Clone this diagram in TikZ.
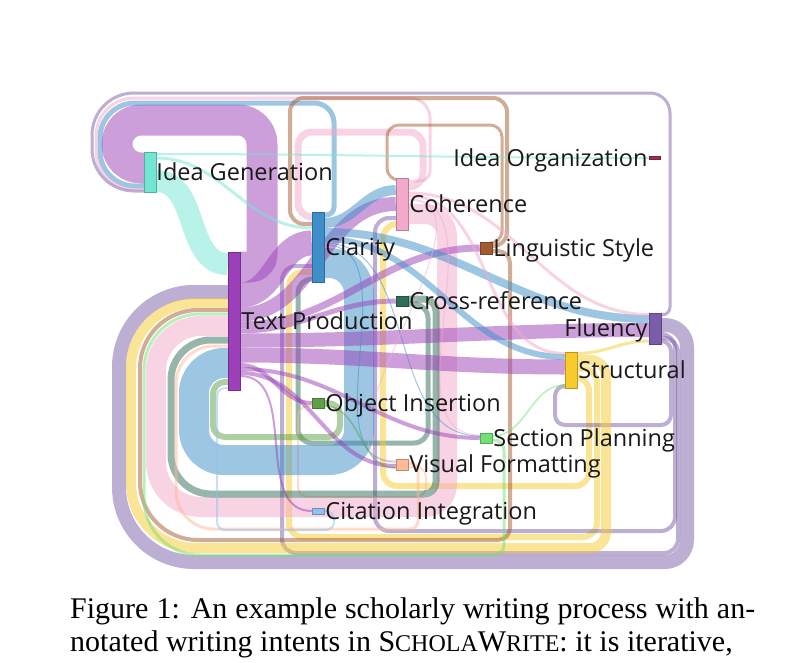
\documentclass[tikz,border=0pt]{standalone}
\usepackage{fontspec}
\setmainfont{Liberation Serif}
\newfontfamily\lblfont{Open Sans}
\usetikzlibrary{calc}
\definecolor{cIG}{HTML}{72E6D2}
\definecolor{cTP}{HTML}{9B40B9}
\definecolor{cCL}{HTML}{3D8EC9}
\definecolor{cCO}{HTML}{F2A9CB}
\definecolor{cIO}{HTML}{9E2E55}
\definecolor{cLS}{HTML}{A45A30}
\definecolor{cCR}{HTML}{2F6F5A}
\definecolor{cFL}{HTML}{7C5EA8}
\definecolor{cST}{HTML}{F7CB2C}
\definecolor{cOI}{HTML}{5EA145}
\definecolor{cSP}{HTML}{74E074}
\definecolor{cVF}{HTML}{FFB995}
\definecolor{cCI}{HTML}{8FC3EE}
\pgfdeclarelayer{bg}
\pgfdeclarelayer{links}
\pgfsetlayers{bg,links,main}
\begin{document}
\begin{tikzpicture}[x=1pt,y=-1pt,
  lk/.style={draw=#1,draw opacity=0.5,line cap=butt,line join=round},
  bar/.style={fill=#1,draw=#1!75!black,line width=0.5pt,rectangle,inner sep=0pt,minimum width=12pt},
  lbl/.style={font=\lblfont\fontsize{23.5}{27}\selectfont,inner sep=0pt,text=black!90},
  captxt/.style={font=\fontsize{30}{36}\selectfont,inner sep=0pt,anchor=base west}]
\begin{pgfonlayer}{bg}
\fill[white] (0,0) rectangle (793,662);
\end{pgfonlayer}
\useasboundingbox (0,0) rectangle (793,662);

% ---------- nodes (bars)
\node[bar=cIG,minimum height=40pt] (ig) at (150,172) {};
\node[bar=cTP,minimum height=138pt] (tp) at (234,321) {};
\node[bar=cCL,minimum height=70pt] (cl) at (318,247) {};
\node[bar=cCO,minimum height=52pt] (co) at (402,204) {};
\node[bar=cIO,minimum height=3pt,minimum width=11pt] (io) at (654.5,158) {};
\node[bar=cLS,minimum height=12pt] (ls) at (486,248) {};
\node[bar=cCR,minimum height=10pt] (cr) at (402,301) {};
\node[bar=cFL,minimum height=31pt] (fl) at (655,328.5) {};
\node[bar=cST,minimum height=36pt] (st) at (571,370) {};
\node[bar=cOI,minimum height=10pt] (oi) at (318,403) {};
\node[bar=cSP,minimum height=10pt] (sp) at (486,438) {};
\node[bar=cVF,minimum height=11pt] (vf) at (402,464.5) {};
\node[bar=cCI,minimum height=6pt] (ci) at (318,511) {};

% ---------- labels
\node[lbl,anchor=base west] (igl) at ($(ig.east)+(0,8.3)$) {Idea Generation};
\node[lbl,anchor=base west] (tpl) at ($(tp.east)+(1,8.3)$) {Text Production};
\node[lbl,anchor=base west] (cll) at ($(cl.east)+(1,8.3)$) {Clarity};
\node[lbl,anchor=base west] (col) at ($(co.east)+(1,8.3)$) {Coherence};
\node[lbl,anchor=base east] (iol) at ($(io.west)+(-1,8.3)$) {Idea Organization};
\node[lbl,anchor=base west] (lsl) at ($(ls.east)+(1,8.3)$) {Linguistic Style};
\node[lbl,anchor=base west] (crl) at ($(cr.east)+(1,8.3)$) {Cross-reference};
\node[lbl,anchor=base east] (fll) at ($(fl.west)+(-1,8.3)$) {Fluency};
\node[lbl,anchor=base west] (stl) at ($(st.east)+(1,8.3)$) {Structural};
\node[lbl,anchor=base west] (oil) at ($(oi.east)+(1,8.3)$) {Object Insertion};
\node[lbl,anchor=base west] (spl) at ($(sp.east)+(1,8.3)$) {Section Planning};
\node[lbl,anchor=base west] (vfl) at ($(vf.east)+(1,8.3)$) {Visual Formatting};
\node[lbl,anchor=base west] (cil) at ($(ci.east)+(1,8.3)$) {Citation Integration};

% ---------- caption
\node[captxt] (cap1) at (70,618) {\makebox[685pt][s]{Figure 1: An example scholarly writing process with an-}};
\node[captxt] (cap2) at (70,651) {notated writing intents in S{\fontsize{24}{28}\selectfont CHOLA}W{\fontsize{24}{28}\selectfont RITE}: it is iterative,};

\begin{pgfonlayer}{links}
% ===== loops into Idea Generation
\draw[lk=cTP,line width=31pt] (tp.east|-0,267) [rounded corners=12pt] -- (262,267) [rounded corners=24pt] -- (262,120) -- (117,120) -- (117,168) -- (ig.west|-0,168);
\draw[lk=cCL,line width=5pt] (cl.east|-0,215) [rounded corners=8pt] -- (334,215) [rounded corners=20pt] -- (334,103) [rounded corners=35pt] -- (100,103) -- (100,186) -- (ig.west|-0,186);
\draw[lk=cCO,line width=3pt] (co.east|-0,181) [rounded corners=10pt] -- (430,181) [rounded corners=20pt] -- (430,98) [rounded corners=38pt] -- (96,98) -- (96,189) -- (ig.west|-0,189);
\draw[lk=cFL,line width=3pt] (fl.east|-0,315) [rounded corners=8pt] -- (670,315) [rounded corners=20pt] -- (670,93) [rounded corners=42pt] -- (92,93) -- (92,191) -- (ig.west|-0,191);
% ===== loops into Clarity
\draw[lk=cLS,line width=4pt,rounded corners=14pt] (ls.east|-0,246) -- (507,246) -- (507,98) -- (290,98) -- (290,224) -- (cl.west|-0,224);
\draw[lk=cCO,line width=7pt,rounded corners=14pt] (co.east|-0,187) -- (423,187) -- (423,132) -- (298,132) -- (298,217) -- (cl.west|-0,217);
\draw[lk=cFL,line width=4pt,rounded corners=14pt] (fl.east|-0,338) -- (678,338) -- (678,553) -- (282,553) -- (282,266) -- (cl.west|-0,266);
\draw[lk=cST,line width=6pt,rounded corners=14pt] (st.east|-0,368.5) -- (597,368.5) -- (597,537) -- (289,537) -- (289,272) -- (cl.west|-0,272);
\draw[lk=cCR,line width=5pt,rounded corners=14pt] (cr.east|-0,304) -- (428,304) -- (428,443) -- (298,443) -- (298,279) -- (cl.west|-0,279);
% ===== loops into Coherence
\draw[lk=cLS,line width=3pt,rounded corners=12pt] (ls.east|-0,243) -- (502,243) -- (502,125) -- (387,125) -- (387,180) -- (co.west|-0,180);
\draw[lk=cFL,line width=4pt,rounded corners=14pt] (fl.east|-0,334) -- (675,334) -- (675,531) -- (375,531) -- (375,218) -- (co.west|-0,218);
\draw[lk=cST,line width=6pt,rounded corners=14pt] (st.east|-0,377) -- (589,377) -- (589,486) -- (383,486) -- (383,224) -- (co.west|-0,224);
% ===== loops into Structural / Object Insertion
\draw[lk=cFL,line width=4pt,rounded corners=10pt] (fl.east|-0,341) -- (671,341) -- (671,425) -- (555,425) -- (555,386) -- (st.west|-0,386);
\draw[lk=cVF,line width=2pt,rounded corners=10pt] (vf.east|-0,467) -- (426,467) -- (426,497) -- (298,497) -- (298,406) -- (oi.west|-0,406);
% ===== loops into Text Production
\draw[lk=cFL,line width=14pt] (fl.east|-0,325) [rounded corners=22pt] -- (687,325) -- (687,562) [rounded corners=75pt] -- (119,562) -- (119,292) -- (tp.west|-0,292);
\draw[lk=cST,line width=10pt] (st.east|-0,360) [rounded corners=16pt] -- (606,360) -- (606,548) [rounded corners=65pt] -- (131,548) -- (131,303) -- (tp.west|-0,303);
\draw[lk=cLS,line width=4pt] (ls.east|-0,251) [rounded corners=12pt] -- (510,251) -- (510,540) [rounded corners=58pt] -- (140,540) -- (140,310) -- (tp.west|-0,310);
\draw[lk=cSP,line width=3pt] (sp.east|-0,440) [rounded corners=10pt] -- (504,440) -- (504,555) [rounded corners=56pt] -- (144,555) -- (144,314) -- (tp.west|-0,314);
\draw[lk=cCO,line width=20pt] (co.east|-0,214) [rounded corners=22pt] -- (447,214) -- (447,507) [rounded corners=45pt] -- (156,507) -- (156,326) -- (tp.west|-0,326);
\draw[lk=cCR,line width=7pt] (cr.east|-0,299) [rounded corners=12pt] -- (436,299) -- (436,494) [rounded corners=40pt] -- (171,494) -- (171,340) -- (tp.west|-0,340);
\draw[lk=cVF,line width=3pt] (vf.east|-0,463) [rounded corners=8pt] -- (418,463) -- (418,529) [rounded corners=38pt] -- (176,529) -- (176,346) -- (tp.west|-0,346);
\draw[lk=cCL,line width=30pt,rounded corners=30pt] (cl.east|-0,263) -- (359,263) -- (359,460) -- (194,460) -- (194,363) -- (tp.west|-0,363);
\draw[lk=cOI,line width=6pt,rounded corners=12pt] (oi.east|-0,403) -- (340,403) -- (340,437) -- (213,437) -- (213,382) -- (tp.west|-0,382);
\draw[lk=cCI,line width=2pt,rounded corners=8pt] (ci.east|-0,511) -- (334,511) -- (334,530) -- (217,530) -- (217,388) -- (tp.west|-0,388);

% ===== forward links
\draw[lk=cIG,line width=2pt] (ig.east|-0,154) to[out=0,in=180] (io.west);
\draw[lk=cIG,line width=3pt] (ig.east|-0,158) to[out=0,in=180] (cl.west|-0,228);
\draw[lk=cIG,line width=22pt] (ig.east|-0,181) to[out=0,in=180] (tp.west|-0,264);
\draw[lk=cTP,line width=25pt] (tp.east|-0,295) to[out=0,in=180] (cl.west|-0,243);
\draw[lk=cTP,line width=14pt] (tp.east|-0,314.5) to[out=0,in=180] (co.west|-0,204);
\draw[lk=cTP,line width=7pt] (tp.east|-0,325) to[out=0,in=180] (ls.west|-0,248);
\draw[lk=cTP,line width=5pt] (tp.east|-0,331) to[out=0,in=180] (cr.west|-0,301);
\draw[lk=cTP,line width=14pt] (tp.east|-0,340.5) to[out=0,in=180] (fl.west|-0,330);
\draw[lk=cTP,line width=15pt] (tp.east|-0,355) to[out=0,in=180] (st.west|-0,367);
\draw[lk=cTP,line width=4pt] (tp.east|-0,365) to[out=0,in=180] (oi.west|-0,403);
\draw[lk=cTP,line width=4pt] (tp.east|-0,369) to[out=0,in=180] (sp.west|-0,438);
\draw[lk=cTP,line width=4pt] (tp.east|-0,373) to[out=0,in=180] (vf.west|-0,466);
\draw[lk=cTP,line width=2pt] (tp.east|-0,376) to[out=0,in=180] (ci.west|-0,511);
\draw[lk=cCL,line width=10pt] (cl.east|-0,223) to[out=0,in=180] (co.west|-0,190);
\draw[lk=cCL,line width=8pt] (cl.east|-0,232) to[out=0,in=180] (fl.west|-0,319);
\draw[lk=cCL,line width=6pt] (cl.east|-0,239) to[out=0,in=180] (st.west|-0,357);
\draw[lk=cCL,line width=1pt] (cl.east|-0,243) to[out=0,in=180] (sp.west|-0,436);
\draw[lk=cCL,line width=1pt] (cl.east|-0,245) to[out=0,in=180] (vf.west|-0,462);
\draw[lk=cCO,line width=3pt] (co.east|-0,193) to[out=0,in=180] (fl.west|-0,314.5);
\draw[lk=cCO,line width=3pt] (co.east|-0,196) to[out=0,in=180] (st.west|-0,353.5);
\draw[lk=cCO,line width=1pt] (co.east|-0,199) to[out=0,in=180] (sp.west|-0,435);
\draw[lk=cCO,line width=1pt] (co.east|-0,200) to[out=0,in=180] (vf.west|-0,461);
\draw[lk=cST,line width=3pt] (st.east|-0,353.5) to[out=0,in=180] (fl.west|-0,341);
\draw[lk=cSP,line width=1.5pt] (sp.east|-0,436) to[out=0,in=180] (st.west|-0,385);
\draw[lk=cOI,line width=1.5pt] (oi.east|-0,406) to[out=0,in=180] (vf.west|-0,468);
\end{pgfonlayer}
\end{tikzpicture}
\end{document}
